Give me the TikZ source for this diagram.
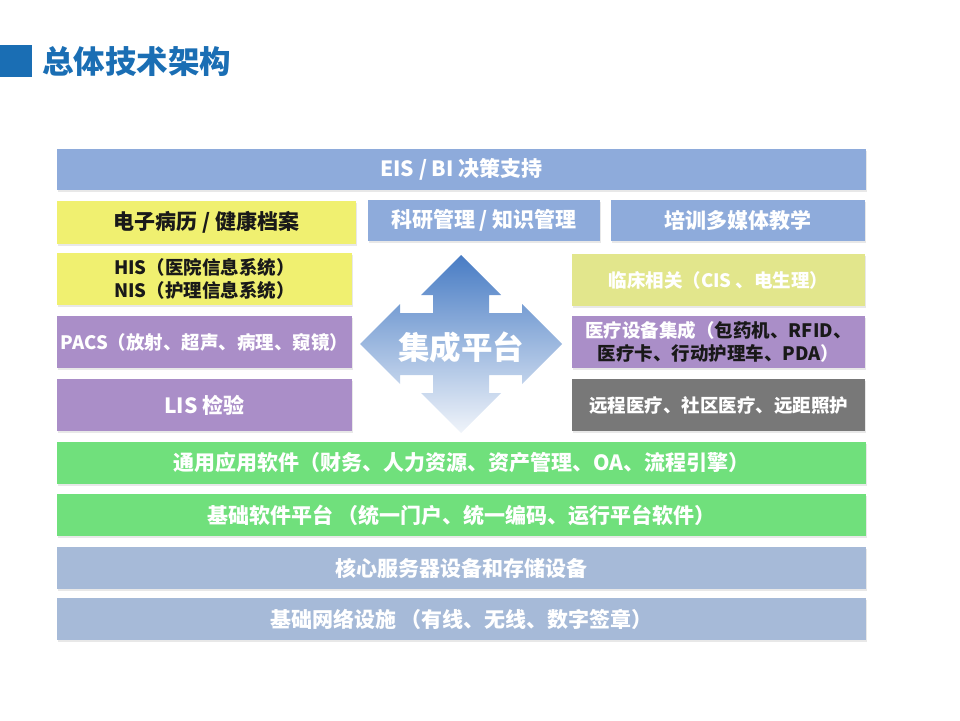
\documentclass[tikz,border=0pt]{standalone}
\usepackage{fontspec}
\setmainfont{Noto Sans CJK SC}
\usetikzlibrary{shadows}
\definecolor{titleblue}{RGB}{26,110,180}
\definecolor{boxblue}{RGB}{142,171,219}
\definecolor{boxyellow}{RGB}{240,240,112}
\definecolor{boxlime}{RGB}{226,230,140}
\definecolor{boxpurple}{RGB}{170,142,200}
\definecolor{boxgray}{RGB}{120,120,120}
\definecolor{boxgreen}{RGB}{112,224,124}
\definecolor{boxsteel}{RGB}{166,186,216}
\definecolor{darktext}{RGB}{25,25,25}
\definecolor{arrtop}{RGB}{72,124,196}
\definecolor{arrmid}{RGB}{140,172,218}
\definecolor{arrbot}{RGB}{240,244,250}
\begin{document}
\begin{tikzpicture}[x=1pt,y=-1pt,
  box/.style={rectangle, inner sep=0pt, outer sep=0pt, align=center,
    font=\bfseries\fontsize{21}{25}\selectfont, text=white,
    drop shadow={opacity=0.18, shadow xshift=1pt, shadow yshift=-2pt}},
  small/.style={font=\bfseries\fontsize{18.5}{23}\selectfont}]
\useasboundingbox (0,0) rectangle (960,720);
% title
\fill[titleblue] (0,45) rectangle (32,77);
\node[anchor=west, inner sep=0pt, text=titleblue, font=\bfseries\fontsize{31.5}{34}\selectfont] (title) at (42,61) {总体技术架构};
% top row
\node[box, fill=boxblue, minimum width=809, minimum height=41] (eis) at (461.5,169.5) {EIS / BI 决策支持};
\node[box, fill=boxyellow, text=darktext, minimum width=299, minimum height=43] (emr) at (206.5,222.5) {电子病历 / 健康档案};
\node[box, fill=boxblue, minimum width=232, minimum height=41] (ky) at (484,220.5) {科研管理 / 知识管理};
\node[box, fill=boxblue, minimum width=254, minimum height=41] (px) at (738,220.5) {培训多媒体教学};
% left column
\node[box, small, fill=boxyellow, text=darktext, minimum width=295, minimum height=52] (his) at (204.5,279) {HIS（医院信息系统）\\NIS（护理信息系统）};
\node[box, small, fill=boxpurple, minimum width=295, minimum height=52] (pacs) at (204.5,342) {PACS（放射、超声、病理、窥镜）};
\node[box, fill=boxpurple, minimum width=295, minimum height=52] (lis) at (204.5,405) {LIS 检验};
% right column
\node[box, small, fill=boxlime, minimum width=293, minimum height=52] (lc) at (718.5,280) {临床相关（CIS 、电生理）};
\node[box, small, fill=boxpurple, minimum width=293, minimum height=52] (sb) at (718.5,342) {医疗设备集成（\textcolor{darktext}{包药机、RFID、}\\\textcolor{darktext}{医疗卡、行动护理车、PDA}）};
\node[box, small, fill=boxgray, minimum width=293, minimum height=52] (yc) at (718.5,405) {远程医疗、社区医疗、远距照护};
% bottom layers
\node[box, fill=boxgreen, minimum width=809, minimum height=42] (ty) at (461.5,463) {通用应用软件（财务、人力资源、资产管理、OA、流程引擎）};
\node[box, fill=boxgreen, minimum width=809, minimum height=42] (jc) at (461.5,515) {基础软件平台 （统一门户、统一编码、运行平台软件）};
\node[box, fill=boxsteel, minimum width=809, minimum height=42] (hx) at (461.5,568) {核心服务器设备和存储设备};
\node[box, fill=boxsteel, minimum width=809, minimum height=42] (wl) at (461.5,619) {基础网络设施 （有线、无线、数字签章）};
% four-way arrow
\begin{scope}[shift={(461,344)}]
\shade[top color=arrtop, middle color=arrmid, bottom color=arrbot]
  (0,-89) -- (40,-49) -- (28,-49) -- (28,-31) -- (61,-31) -- (61,-40) -- (101,0)
  -- (61,40) -- (61,31) -- (28,31) -- (28,49) -- (40,49) -- (0,89)
  -- (-40,49) -- (-28,49) -- (-28,31) -- (-61,31) -- (-61,40) -- (-101,0)
  -- (-61,-40) -- (-61,-31) -- (-28,-31) -- (-28,-49) -- (-40,-49) -- cycle;
\node[text=white, font=\bfseries\fontsize{31.5}{34}\selectfont] (jcpt) at (0,3) {集成平台};
\end{scope}
\end{tikzpicture}
\end{document}
